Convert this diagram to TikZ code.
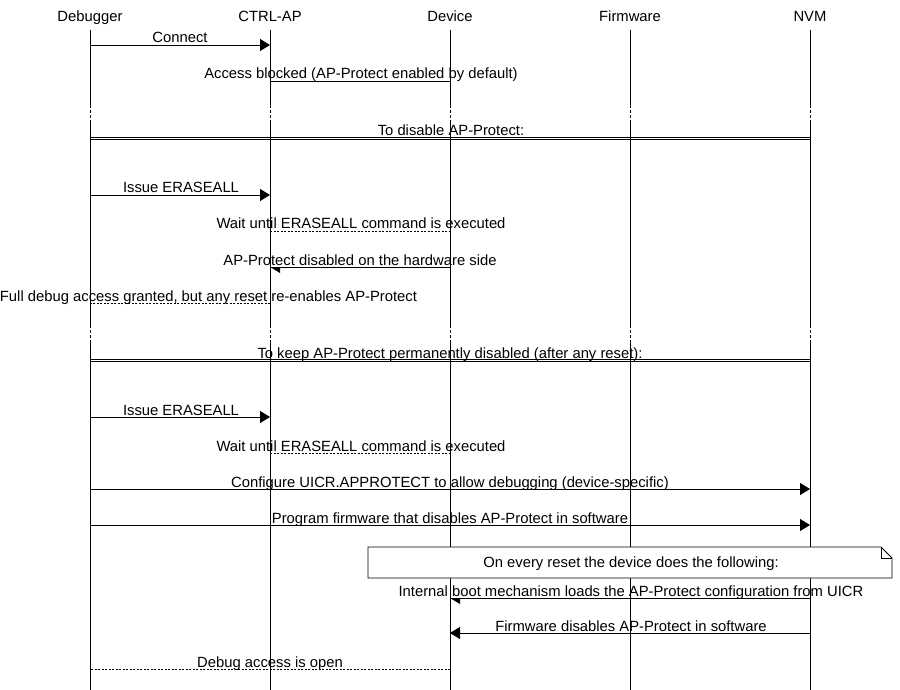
\documentclass[tikz,border=0pt]{standalone}
\usepackage{fontspec}
\setmainfont{Liberation Sans}
\usetikzlibrary{arrows.meta,calc}
\begin{document}
\begin{tikzpicture}[x=1pt,y=-1pt,
  txt/.style={font=\fontsize{14.8}{17}\selectfont, inner sep=0pt, anchor=base, yshift=-1pt},
  life/.style={line width=0.9pt},
  lifegap/.style={line width=0.9pt, dash pattern=on 3pt off 2pt},
  msg/.style={line width=0.9pt},
  arr/.style={msg, -{Triangle[length=10pt,width=12pt]}},
  dots/.style={line width=0.9pt, dash pattern=on 2pt off 1.5pt},
  divline/.style={line width=0.9pt},
  notebox/.style={draw, line width=0.9pt, fill=white}
]
\useasboundingbox (0,0) rectangle (900,690);
\fill[white] (0,0) rectangle (900,690);

% participants
\node[txt] (dbg)  at (90,21)  {Debugger};
\node[txt] (ctrl) at (270,21) {CTRL-AP};
\node[txt] (dev)  at (450,21) {Device};
\node[txt] (fw)   at (630,21) {Firmware};
\node[txt] (nvm)  at (810,21) {NVM};

% row coordinates
\coordinate (top) at (0,30);
\coordinate (ga1) at (0,105);
\coordinate (gb1) at (0,123);
\coordinate (ga2) at (0,325);
\coordinate (gb2) at (0,343);
\coordinate (bot) at (0,690);
\coordinate (m1) at (0,45);
\coordinate (m2) at (0,81);
\coordinate (divAa) at (0,137.6);
\coordinate (divAb) at (0,139.6);
\coordinate (m3) at (0,195);
\coordinate (m4) at (0,231);
\coordinate (m5) at (0,267);
\coordinate (m6) at (0,303);
\coordinate (divBa) at (0,359.6);
\coordinate (divBb) at (0,361.6);
\coordinate (m7) at (0,417);
\coordinate (m8) at (0,453);
\coordinate (m9) at (0,489);
\coordinate (m10) at (0,525);
\coordinate (m11) at (0,598);
\coordinate (m12) at (0,633);
\coordinate (m13) at (0,669);

% lifelines
\foreach \p in {dbg,ctrl,dev,fw,nvm}{
  \draw[life] (\p |- top) -- (\p |- ga1);
  \draw[lifegap] (\p |- ga1) -- (\p |- gb1);
  \draw[life] (\p |- gb1) -- (\p |- ga2);
  \draw[lifegap] (\p |- ga2) -- (\p |- gb2);
  \draw[life] (\p |- gb2) -- (\p |- bot);
}

% messages
\draw[arr] (dbg |- m1) -- (ctrl |- m1);
\node[txt] (l1) at (180,42) {Connect};

\draw[msg] (dev |- m2) -- (ctrl |- m2);
\node[txt] (l2) at (361,78) {Access blocked (AP-Protect enabled by default)};

\draw[divline] (dbg |- divAa) -- (nvm |- divAa);
\draw[divline] (dbg |- divAb) -- (nvm |- divAb);
\node[txt] (l3) at (451,135) {To disable AP-Protect:};

\draw[arr] (dbg |- m3) -- (ctrl |- m3);
\node[txt] (l4) at (181,192) {Issue ERASEALL};

\draw[dots] (ctrl |- m4) -- (dev |- m4);
\node[txt] (l5) at (361,228) {Wait until ERASEALL command is executed};

\draw[msg] (dev |- m5) -- (ctrl |- m5);
\fill (ctrl |- m5) -- ++(10,0) -- ++(0,6) -- cycle;
\node[txt] (l6) at (360,264) {AP-Protect disabled on the hardware side};

\draw[dots] (ctrl |- m6) -- (dbg |- m6);
\node[txt] (l7) at (208.5,300) {Full debug access granted, but any reset re-enables AP-Protect};

\draw[divline] (dbg |- divBa) -- (nvm |- divBa);
\draw[divline] (dbg |- divBb) -- (nvm |- divBb);
\node[txt] (l8) at (450,357) {To keep AP-Protect permanently disabled (after any reset):};

\draw[arr] (dbg |- m7) -- (ctrl |- m7);
\node[txt] (l9) at (181,414) {Issue ERASEALL};

\draw[dots] (ctrl |- m8) -- (dev |- m8);
\node[txt] (l10) at (361,450) {Wait until ERASEALL command is executed};

\draw[arr] (dbg |- m9) -- (nvm |- m9);
\node[txt] (l11) at (450,486) {Configure UICR.APPROTECT to allow debugging (device-specific)};

\draw[arr] (dbg |- m10) -- (nvm |- m10);
\node[txt] (l12) at (450,522) {Program firmware that disables AP-Protect in software};

% note
\draw[notebox] (368,547) -- (881,547) -- (892,558) -- (892,578) -- (368,578) -- cycle;
\draw[line width=0.9pt] (881,547) -- (881,558) -- (892,558);
\node[txt] (note) at (631,566) {On every reset the device does the following:};

\draw[msg] (nvm |- m11) -- (dev |- m11);
\fill (dev |- m11) -- ++(10,0) -- ++(0,6) -- cycle;
\node[txt] (l13) at (631,595) {Internal boot mechanism loads the AP-Protect configuration from UICR};

\draw[arr] (nvm |- m12) -- (dev |- m12);
\node[txt] (l14) at (631,630) {Firmware disables AP-Protect in software};

\draw[dots] (dev |- m13) -- (dbg |- m13);
\node[txt] (l15) at (270,666) {Debug access is open};
\end{tikzpicture}
\end{document}
